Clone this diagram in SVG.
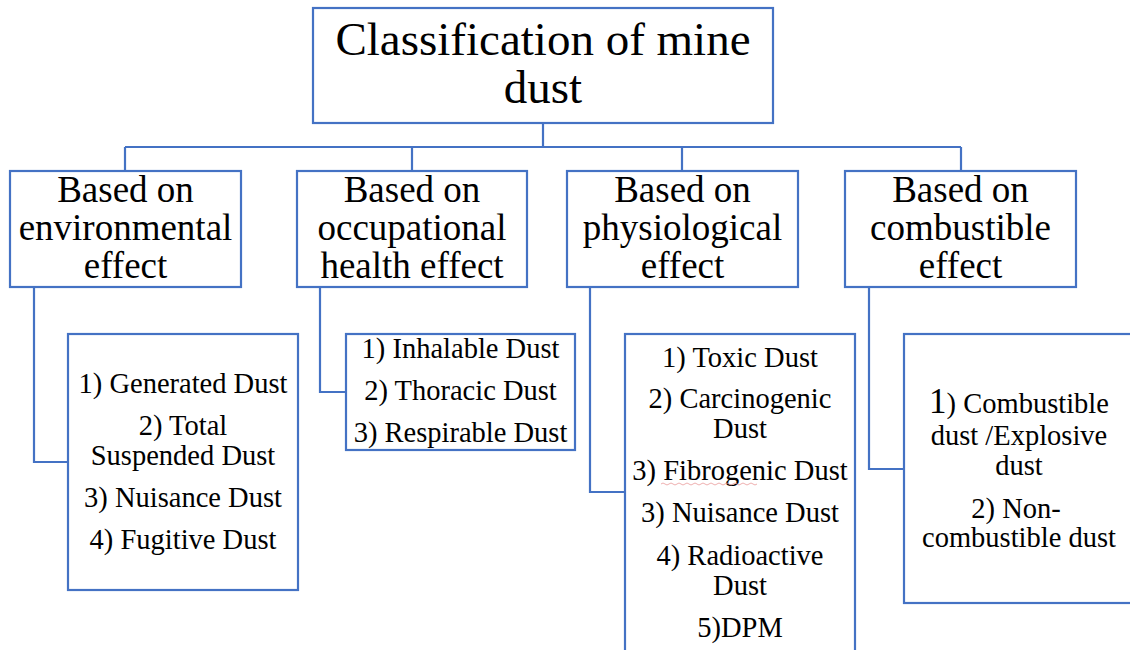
<svg xmlns="http://www.w3.org/2000/svg" width="1130" height="650" viewBox="0 0 1130 650" font-family="Liberation Serif, Times New Roman, serif">
  <style>
    .box { fill: #ffffff; stroke: #4472C4; stroke-width: 2.2; }
    .link { fill: none; stroke: #4472C4; stroke-width: 2.2; }
    .lbl { fill: #000000; text-anchor: middle; }
    .t0 { font-size: 47px; }
    .t1 { font-size: 37px; }
    .t2 { font-size: 28.5px; }
    .big { font-size: 35px; }
  </style>
  <rect width="1130" height="650" fill="#ffffff"/>

  <!-- connectors -->
  <g id="connectors">
    <path class="link" d="M543 123 V147 M125 147 H961 M125 147 V171 M412 147 V171 M682 147 V171 M961 147 V171"/>
    <path class="link" d="M34 287 V462 H68"/>
    <path class="link" d="M320 287 V392 H346"/>
    <path class="link" d="M590 287 V492 H625"/>
    <path class="link" d="M869 287 V469 H904"/>
  </g>

  <!-- root -->
  <g id="root">
    <rect class="box" x="313" y="8" width="460" height="115"/>
    <text class="lbl t0" x="543" y="55">Classification of mine</text>
    <text class="lbl t0" x="543" y="103">dust</text>
  </g>

  <!-- categories -->
  <g id="cat-environmental">
    <rect class="box" x="10" y="171" width="231" height="116"/>
    <text class="lbl t1" x="125.5" y="202">Based on</text>
    <text class="lbl t1" x="125.5" y="240">environmental</text>
    <text class="lbl t1" x="125.5" y="278">effect</text>
  </g>
  <g id="cat-occupational">
    <rect class="box" x="297" y="171" width="230" height="116"/>
    <text class="lbl t1" x="412" y="202">Based on</text>
    <text class="lbl t1" x="412" y="240">occupational</text>
    <text class="lbl t1" x="412" y="278">health effect</text>
  </g>
  <g id="cat-physiological">
    <rect class="box" x="567" y="171" width="231" height="116"/>
    <text class="lbl t1" x="682.5" y="202">Based on</text>
    <text class="lbl t1" x="682.5" y="240">physiological</text>
    <text class="lbl t1" x="682.5" y="278">effect</text>
  </g>
  <g id="cat-combustible">
    <rect class="box" x="845" y="171" width="231" height="116"/>
    <text class="lbl t1" x="960.5" y="202">Based on</text>
    <text class="lbl t1" x="960.5" y="240">combustible</text>
    <text class="lbl t1" x="960.5" y="278">effect</text>
  </g>

  <!-- lists -->
  <g id="list-environmental">
    <rect class="box" x="68" y="334" width="230" height="256"/>
    <text class="lbl t2" x="183" y="393">1) Generated Dust</text>
    <text class="lbl t2" x="183" y="435">2) Total</text>
    <text class="lbl t2" x="183" y="465">Suspended Dust</text>
    <text class="lbl t2" x="183" y="507">3) Nuisance Dust</text>
    <text class="lbl t2" x="183" y="549">4) Fugitive Dust</text>
  </g>
  <g id="list-occupational">
    <rect class="box" x="346" y="334" width="229" height="116"/>
    <text class="lbl t2" x="460.5" y="358">1) Inhalable Dust</text>
    <text class="lbl t2" x="460.5" y="400">2) Thoracic Dust</text>
    <text class="lbl t2" x="460.5" y="442">3) Respirable Dust</text>
  </g>
  <g id="list-physiological">
    <rect class="box" x="625" y="334" width="230" height="360"/>
    <text class="lbl t2" x="740" y="367">1) Toxic Dust</text>
    <text class="lbl t2" x="740" y="408">2) Carcinogenic</text>
    <text class="lbl t2" x="740" y="438">Dust</text>
    <text class="lbl t2" x="740" y="480">3) Fibrogenic Dust</text>
    <path d="M661 484 q2 -2 4 0 t4 0 t4 0 t4 0 t4 0 t4 0 t4 0 t4 0 t4 0 t4 0 t4 0 t4 0 t4 0 t4 0 t4 0 t4 0 t4 0 t4 0 t4 0 t4 0 t4 0 t4 0 t4 0 t4 0" fill="none" stroke="#e89a9a" stroke-width="0.8"/>
    <text class="lbl t2" x="740" y="522">3) Nuisance Dust</text>
    <text class="lbl t2" x="740" y="565">4) Radioactive</text>
    <text class="lbl t2" x="740" y="595">Dust</text>
    <text class="lbl t2" x="740" y="637">5)DPM</text>
  </g>
  <g id="list-combustible">
    <rect class="box" x="904" y="334" width="230" height="269"/>
    <text class="lbl t2" x="1019" y="413"><tspan class="big">1</tspan>) Combustible</text>
    <text class="lbl t2" x="1019" y="445">dust /Explosive</text>
    <text class="lbl t2" x="1019" y="475">dust</text>
    <text class="lbl t2" x="1016" y="518">2) Non-</text>
    <text class="lbl t2" x="1019" y="547">combustible dust</text>
  </g>
</svg>
